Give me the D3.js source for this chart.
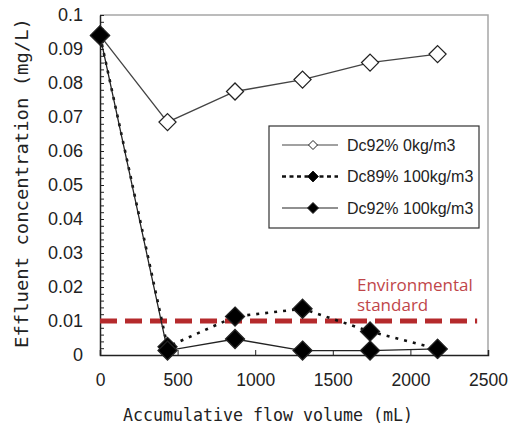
<!DOCTYPE html>
<html>
<head>
<meta charset="utf-8">
<script src="https://cdn.jsdelivr.net/npm/d3@7"></script>
<style>
  body { margin: 0; background: #fff; }
  svg { display: block; }
</style>
</head>
<body>
<svg id="chart"></svg>
<script>
// accumulative flow volume (mL)
var volumes = [0, 435, 870, 1305, 1740, 2175];

// effluent concentration (mg/L)
var dc92_0 = [0.094, 0.0685, 0.0775, 0.081, 0.086, 0.0885];
var dc89_100 = [0.094, 0.0024, 0.0113, 0.0136, 0.0069, 0.0018];
var dc92_100 = [0.094, 0.0013, 0.0047, 0.0013, 0.0013, 0.0018];

var seriesNames = ["Dc92% 0kg/m3", "Dc89% 100kg/m3", "Dc92% 100kg/m3"];

var envLevel = 0.01;
var envRange = [0, 2430];
var envLabel = ["Environmental", "standard"];

var xTicks = [0, 500, 1000, 1500, 2000, 2500];
var yTicks = [0, 0.01, 0.02, 0.03, 0.04, 0.05, 0.06, 0.07, 0.08, 0.09, 0.1];

var config = {
  w: 509,
  h: 430,
  left: 100,
  top: 15,
  right: 488,
  bottom: 355
};

var svg = d3.select("#chart")
  .attr("width", config.w)
  .attr("height", config.h);

var x = d3.scaleLinear().domain([0, 2500]).range([config.left, config.right]);
var y = d3.scaleLinear().domain([0, 0.1]).range([config.bottom, config.top]);

// gray frame on top and right
svg.append("path")
  .attr("d", "M" + config.left + "," + config.top + "H" + config.right + "V" + config.bottom)
  .attr("fill", "none")
  .attr("stroke", "#a6a6a6")
  .attr("stroke-width", 1.5);

// y axis: minor ticks pointing inward
var minor = d3.range(0, 0.1001, 0.002);
svg.append("g")
  .attr("transform", "translate(" + config.left + ",0)")
  .call(d3.axisRight(y).tickValues(minor).tickSize(4).tickFormat(""))
  .call(function(g) { g.selectAll("line").attr("stroke", "#222"); g.select(".domain").remove(); });

// y axis labels
svg.append("g")
  .attr("transform", "translate(" + config.left + ",0)")
  .call(d3.axisLeft(y).tickValues(yTicks).tickSize(0).tickPadding(17)
    .tickFormat(function(d) { return d === 0 ? "0" : String(+d.toFixed(2)); }))
  .call(function(g) {
    g.select(".domain").attr("stroke", "#222").attr("stroke-width", 1.5);
    g.selectAll("text")
      .attr("font-family", "Liberation Sans, Arial, sans-serif")
      .attr("font-size", 18)
      .attr("fill", "#222");
  });

// x axis
svg.append("g")
  .attr("transform", "translate(0," + config.bottom + ")")
  .call(d3.axisTop(x).tickValues(xTicks).tickSize(5).tickFormat(""))
  .call(function(g) {
    g.select(".domain").attr("stroke", "#222").attr("stroke-width", 1.5);
    g.selectAll("line").attr("stroke", "#222");
  });

svg.append("g")
  .attr("transform", "translate(0," + config.bottom + ")")
  .call(d3.axisBottom(x).tickValues(xTicks).tickSize(0).tickPadding(19).tickFormat(d3.format("d")))
  .call(function(g) {
    g.select(".domain").remove();
    g.selectAll("text")
      .attr("font-family", "Liberation Sans, Arial, sans-serif")
      .attr("font-size", 17.5)
      .attr("fill", "#222");
  });

// axis titles
svg.append("text")
  .attr("x", 268)
  .attr("y", 421)
  .attr("text-anchor", "middle")
  .attr("font-family", "DejaVu Sans Mono, monospace")
  .attr("font-size", 18)
  .attr("textLength", 290)
  .attr("lengthAdjust", "spacingAndGlyphs")
  .attr("fill", "#222")
  .text("Accumulative flow volume (mL)");

svg.append("text")
  .attr("transform", "translate(28,183) rotate(-90)")
  .attr("text-anchor", "middle")
  .attr("font-family", "DejaVu Sans Mono, monospace")
  .attr("font-size", 18)
  .attr("textLength", 330)
  .attr("lengthAdjust", "spacingAndGlyphs")
  .attr("fill", "#222")
  .text("Effluent concentration (mg/L)");

// environmental standard
svg.append("line")
  .attr("x1", x(envRange[0]))
  .attr("x2", x(envRange[1]))
  .attr("y1", y(envLevel))
  .attr("y2", y(envLevel))
  .attr("stroke", "#b52a2c")
  .attr("stroke-width", 5)
  .attr("stroke-dasharray", "17,8");

svg.append("text")
  .attr("x", 357)
  .attr("y", 291)
  .attr("font-family", "Open Sans, sans-serif")
  .attr("font-size", 17)
  .attr("fill", "#c0464a")
  .selectAll("tspan")
  .data(envLabel)
  .enter()
  .append("tspan")
    .attr("x", 357)
    .attr("dy", function(d, i) { return i === 0 ? 0 : 20; })
    .text(function(d) { return d; });

// diamond path generator
function diamond(r) {
  return "M0," + (-r) + "L" + r + ",0L0," + r + "L" + (-r) + ",0Z";
}

var series = [
  { name: seriesNames[0], values: dc92_0, dash: null, width: 1.3, color: "#444", fill: "#fff", r: 8.5 },
  { name: seriesNames[1], values: dc89_100, dash: "3,6", width: 2.6, color: "#111", fill: "#000", r: 9.5 },
  { name: seriesNames[2], values: dc92_100, dash: null, width: 1.3, color: "#222", fill: "#000", r: 9.5 }
];

var line = d3.line()
  .x(function(d) { return x(d[0]); })
  .y(function(d) { return y(d[1]); });

var plot = svg.append("g").attr("id", "plot");

series.forEach(function(s) {
  var pts = volumes.map(function(v, i) { return [v, s.values[i]]; });
  plot.append("path")
    .attr("d", line(pts))
    .attr("fill", "none")
    .attr("stroke", s.color)
    .attr("stroke-width", s.width)
    .attr("stroke-dasharray", s.dash);
});

series.forEach(function(s) {
  var pts = volumes.map(function(v, i) { return [v, s.values[i]]; });
  plot.append("g").selectAll("path")
    .data(pts)
    .enter()
    .append("path")
      .attr("transform", function(d) { return "translate(" + x(d[0]) + "," + y(d[1]) + ")"; })
      .attr("d", diamond(s.r))
      .attr("fill", s.fill)
      .attr("stroke", "#222")
      .attr("stroke-width", 1.3);
});

// legend
var legend = svg.append("g").attr("transform", "translate(269,126)");
legend.append("rect")
  .attr("width", 210)
  .attr("height", 102)
  .attr("fill", "#fff")
  .attr("stroke", "#333")
  .attr("stroke-width", 1.2);

var items = legend.selectAll("g.item")
  .data(series)
  .enter()
  .append("g")
    .attr("class", "item")
    .attr("transform", function(d, i) { return "translate(0," + (19 + i * 31.5) + ")"; });

items.append("line")
  .attr("x1", 13)
  .attr("x2", 69)
  .attr("stroke", function(d) { return d.color; })
  .attr("stroke-width", function(d) { return d.dash ? 2.6 : 1.2; })
  .attr("stroke-dasharray", function(d) { return d.dash ? "4,3.5" : null; });

items.append("path")
  .attr("transform", "translate(44,0)")
  .attr("d", function(d) { return diamond(d.fill === "#fff" ? 4.5 : 5.5); })
  .attr("fill", function(d) { return d.fill; })
  .attr("stroke", "#222")
  .attr("stroke-width", 1);

items.append("text")
  .attr("x", 78)
  .attr("dy", "0.35em")
  .attr("font-family", "Liberation Sans, Arial, sans-serif")
  .attr("font-size", 16)
  .attr("fill", "#222")
  .text(function(d) { return d.name; });
</script>
</body>
</html>
